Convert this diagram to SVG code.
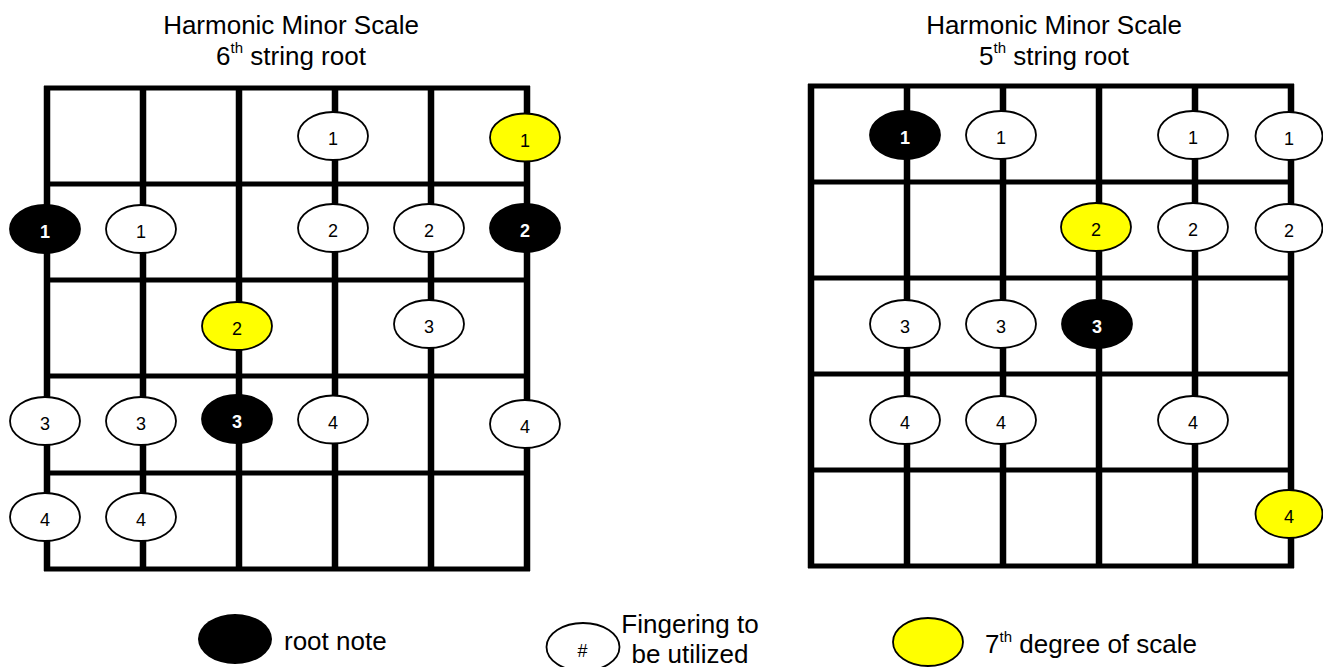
<svg xmlns="http://www.w3.org/2000/svg" width="1323" height="667" viewBox="0 0 1323 667">
<style>
  text { font-family: "Liberation Sans", Arial, sans-serif; fill: #000; }
  .title { font-size: 26px; text-anchor: middle; }
  .sup { font-size: 15px; }
  .fret { stroke: #000; stroke-width: 5; fill: none; }
  .str { stroke: #000; stroke-width: 6.5; fill: none; }
  .note ellipse { stroke: #000; stroke-width: 1.8; }
  .w ellipse { fill: #fff; }
  .y ellipse { fill: #ffff00; }
  .b ellipse { fill: #000; }
  .note text { font-size: 18px; text-anchor: middle; }
  .b text { fill: #fff; font-weight: bold; }
  .legend { font-size: 26px; }
</style>
<rect width="1323" height="667" fill="#fff"/>

<g id="title-left">
  <text class="title" x="291" y="34">Harmonic Minor Scale</text>
  <text class="title" x="291" y="65">6<tspan class="sup" dy="-12">th</tspan><tspan dy="12"> string root</tspan></text>
</g>
<g id="title-right">
  <text class="title" x="1054" y="34">Harmonic Minor Scale</text>
  <text class="title" x="1054" y="65">5<tspan class="sup" dy="-12">th</tspan><tspan dy="12"> string root</tspan></text>
</g>

<g id="board-left">
  <g class="frets">
    <line class="fret" x1="44" y1="88" x2="530" y2="88"/>
    <line class="fret" x1="44" y1="184" x2="530" y2="184"/>
    <line class="fret" x1="44" y1="280" x2="530" y2="280"/>
    <line class="fret" x1="44" y1="376" x2="530" y2="376"/>
    <line class="fret" x1="44" y1="473" x2="530" y2="473"/>
    <line class="fret" x1="44" y1="569" x2="530" y2="569"/>
  </g>
  <g class="strings">
    <line class="str" x1="47" y1="86" x2="47" y2="571"/>
    <line class="str" x1="143" y1="86" x2="143" y2="571"/>
    <line class="str" x1="239" y1="86" x2="239" y2="571"/>
    <line class="str" x1="335" y1="86" x2="335" y2="571"/>
    <line class="str" x1="431" y1="86" x2="431" y2="571"/>
    <line class="str" x1="527" y1="86" x2="527" y2="571"/>
  </g>
</g>

<g id="board-right">
  <g class="frets">
    <line class="fret" x1="808" y1="86" x2="1294" y2="86"/>
    <line class="fret" x1="808" y1="182" x2="1294" y2="182"/>
    <line class="fret" x1="808" y1="278" x2="1294" y2="278"/>
    <line class="fret" x1="808" y1="374" x2="1294" y2="374"/>
    <line class="fret" x1="808" y1="470" x2="1294" y2="470"/>
    <line class="fret" x1="808" y1="566" x2="1294" y2="566"/>
  </g>
  <g class="strings">
    <line class="str" x1="811" y1="84" x2="811" y2="568"/>
    <line class="str" x1="907" y1="84" x2="907" y2="568"/>
    <line class="str" x1="1003" y1="84" x2="1003" y2="568"/>
    <line class="str" x1="1099" y1="84" x2="1099" y2="568"/>
    <line class="str" x1="1195" y1="84" x2="1195" y2="568"/>
    <line class="str" x1="1291" y1="84" x2="1291" y2="568"/>
  </g>
</g>

<g id="notes-left">
  <g id="L-r1-s4" class="note w"><ellipse cx="333" cy="136" rx="35" ry="24"/><text x="333" y="145">1</text></g>
  <g id="L-r1-s6" class="note y"><ellipse cx="525" cy="137.5" rx="35" ry="24"/><text x="525" y="146.5">1</text></g>
  <g id="L-r2-s1" class="note b"><ellipse cx="45" cy="229" rx="35" ry="24"/><text x="45" y="238">1</text></g>
  <g id="L-r2-s2" class="note w"><ellipse cx="141" cy="229" rx="35" ry="24"/><text x="141" y="238">1</text></g>
  <g id="L-r2-s4" class="note w"><ellipse cx="333" cy="228" rx="35" ry="24"/><text x="333" y="237">2</text></g>
  <g id="L-r2-s5" class="note w"><ellipse cx="429" cy="228" rx="35" ry="24"/><text x="429" y="237">2</text></g>
  <g id="L-r2-s6" class="note b"><ellipse cx="525" cy="228" rx="35" ry="24"/><text x="525" y="237">2</text></g>
  <g id="L-r3-s3" class="note y"><ellipse cx="237" cy="326" rx="35" ry="24"/><text x="237" y="335">2</text></g>
  <g id="L-r3-s5" class="note w"><ellipse cx="429" cy="324" rx="35" ry="24"/><text x="429" y="333">3</text></g>
  <g id="L-r4-s1" class="note w"><ellipse cx="45" cy="421" rx="35" ry="24"/><text x="45" y="430">3</text></g>
  <g id="L-r4-s2" class="note w"><ellipse cx="141" cy="421" rx="35" ry="24"/><text x="141" y="430">3</text></g>
  <g id="L-r4-s3" class="note b"><ellipse cx="237" cy="419" rx="35" ry="24"/><text x="237" y="428">3</text></g>
  <g id="L-r4-s4" class="note w"><ellipse cx="333" cy="419.5" rx="35" ry="24"/><text x="333" y="428.5">4</text></g>
  <g id="L-r4-s6" class="note w"><ellipse cx="525" cy="424" rx="35" ry="24"/><text x="525" y="433">4</text></g>
  <g id="L-r5-s1" class="note w"><ellipse cx="45" cy="517" rx="35" ry="24"/><text x="45" y="526">4</text></g>
  <g id="L-r5-s2" class="note w"><ellipse cx="141" cy="517" rx="35" ry="24"/><text x="141" y="526">4</text></g>
</g>

<g id="notes-right">
  <g id="R-r1-s2" class="note b"><ellipse cx="905" cy="135" rx="35" ry="24"/><text x="905" y="144">1</text></g>
  <g id="R-r1-s3" class="note w"><ellipse cx="1001" cy="135" rx="35" ry="24"/><text x="1001" y="144">1</text></g>
  <g id="R-r1-s5" class="note w"><ellipse cx="1193" cy="135" rx="35" ry="24"/><text x="1193" y="144">1</text></g>
  <g id="R-r1-s6" class="note w"><ellipse cx="1289" cy="136" rx="33.5" ry="24"/><text x="1289" y="145">1</text></g>
  <g id="R-r2-s4" class="note y"><ellipse cx="1096" cy="227" rx="35" ry="24"/><text x="1096" y="236">2</text></g>
  <g id="R-r2-s5" class="note w"><ellipse cx="1193" cy="227" rx="35" ry="24"/><text x="1193" y="236">2</text></g>
  <g id="R-r2-s6" class="note w"><ellipse cx="1289" cy="228" rx="33.5" ry="24"/><text x="1289" y="237">2</text></g>
  <g id="R-r3-s2" class="note w"><ellipse cx="905" cy="324" rx="35" ry="24"/><text x="905" y="333">3</text></g>
  <g id="R-r3-s3" class="note w"><ellipse cx="1001" cy="324" rx="35" ry="24"/><text x="1001" y="333">3</text></g>
  <g id="R-r3-s4" class="note b"><ellipse cx="1097" cy="324" rx="35" ry="24"/><text x="1097" y="333">3</text></g>
  <g id="R-r4-s2" class="note w"><ellipse cx="905" cy="420" rx="35" ry="24"/><text x="905" y="429">4</text></g>
  <g id="R-r4-s3" class="note w"><ellipse cx="1001" cy="420" rx="35" ry="24"/><text x="1001" y="429">4</text></g>
  <g id="R-r4-s5" class="note w"><ellipse cx="1193" cy="420" rx="35" ry="24"/><text x="1193" y="429">4</text></g>
  <g id="R-r5-s6" class="note y"><ellipse cx="1289" cy="514" rx="33.5" ry="24"/><text x="1289" y="523">4</text></g>
</g>

<g id="legend-root">
  <ellipse cx="235" cy="639" rx="37" ry="25" fill="#000"/>
  <text class="legend" x="284" y="649.5">root note</text>
</g>
<g id="legend-fingering">
  <ellipse cx="583" cy="647" rx="36.5" ry="24" fill="#fff" stroke="#000" stroke-width="1.8"/>
  <text x="582.5" y="656.5" style="font-size:18px;text-anchor:middle">#</text>
  <text class="legend" x="690" y="633" text-anchor="middle">Fingering to</text>
  <text class="legend" x="690" y="663" text-anchor="middle">be utilized</text>
</g>
<g id="legend-seventh">
  <ellipse cx="928" cy="642" rx="35" ry="24" fill="#ffff00" stroke="#000" stroke-width="1.8"/>
  <text class="legend" x="985" y="653">7<tspan class="sup" dy="-11">th</tspan><tspan dy="11"> degree of scale</tspan></text>
</g>
</svg>
